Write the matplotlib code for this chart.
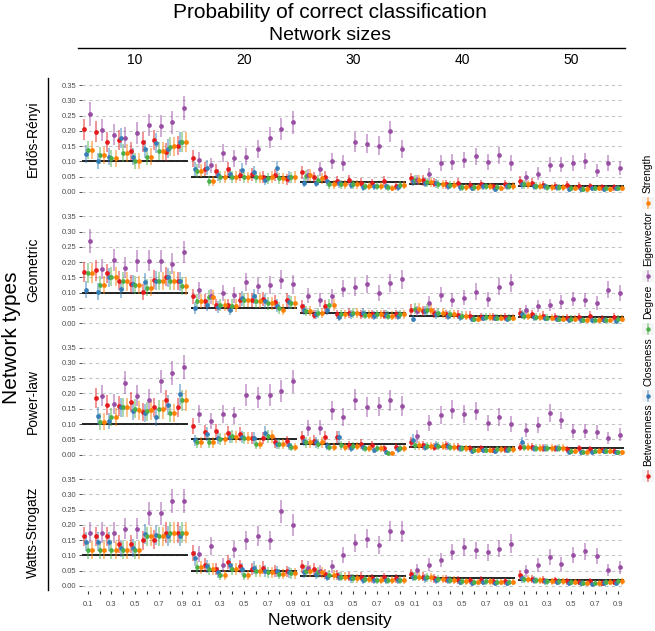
import numpy as np
import matplotlib.pyplot as plt
from matplotlib.lines import Line2D
from matplotlib.patches import Rectangle

plt.rcParams['font.family'] = ['Liberation Sans', 'DejaVu Sans']

# Data
densities = [0.1, 0.2, 0.3, 0.4, 0.5, 0.6, 0.7, 0.8, 0.9]
sizes = [10, 20, 30, 40, 50]
network_types = ["Erdős-Rényi", "Geometric", "Power-law", "Watts-Strogatz"]
measures = ["Betweenness", "Closeness", "Degree", "Eigenvector", "Strength"]
colors = ["#E41A1C", "#377EB8", "#4DAF4A", "#984EA3", "#FF7F00"]
n_reps = 500  # simulations per cell, used for the 95% binomial interval
nan = np.nan

er_10 = {
    "Betweenness": [0.205, 0.197, 0.165, 0.170, 0.135, 0.165, 0.170, 0.130, 0.152],
    "Closeness": [0.125, 0.100, 0.115, 0.177, 0.115, 0.140, 0.160, 0.142, 0.165],
    "Degree": [0.138, 0.120, 0.110, 0.127, 0.100, 0.115, 0.135, 0.148, 0.165],
    "Eigenvector": [0.255, 0.202, 0.187, 0.178, 0.193, 0.218, 0.217, 0.228, 0.275],
    "Strength": [0.138, 0.120, 0.110, 0.127, 0.100, 0.115, 0.135, 0.150, 0.165],
}
er_20 = {
    "Betweenness": [0.110, 0.075, 0.070, 0.075, 0.055, 0.058, 0.050, 0.055, 0.042],
    "Closeness": [0.075, 0.080, 0.055, 0.060, 0.072, 0.065, 0.040, 0.077, 0.050],
    "Degree": [0.070, 0.035, 0.050, 0.050, 0.048, 0.048, 0.045, 0.045, 0.048],
    "Eigenvector": [0.105, 0.087, 0.127, 0.110, 0.116, 0.140, 0.178, 0.206, 0.228],
    "Strength": [0.070, 0.035, 0.050, 0.050, 0.048, 0.048, 0.050, 0.045, 0.050],
}
er_30 = {
    "Betweenness": [0.065, 0.048, 0.050, 0.035, 0.040, 0.030, 0.028, 0.035, 0.020],
    "Closeness": [0.030, 0.030, 0.035, 0.028, 0.022, 0.015, 0.020, 0.018, 0.015],
    "Degree": [0.052, 0.040, 0.025, 0.025, 0.025, 0.020, 0.020, 0.015, 0.022],
    "Eigenvector": [0.055, 0.074, 0.100, 0.095, 0.163, 0.158, 0.151, 0.198, 0.141],
    "Strength": [0.055, 0.045, 0.025, 0.025, 0.025, 0.020, 0.020, 0.012, 0.022],
}
er_40 = {
    "Betweenness": [0.045, 0.038, 0.030, 0.025, 0.030, 0.022, 0.025, 0.018, 0.025],
    "Closeness": [0.035, 0.030, 0.028, 0.020, 0.015, 0.012, 0.020, 0.010, 0.018],
    "Degree": [0.040, 0.032, 0.025, 0.022, 0.015, 0.015, 0.018, 0.015, 0.020],
    "Eigenvector": [0.040, 0.058, 0.096, 0.098, 0.105, 0.117, 0.099, 0.120, 0.096],
    "Strength": [0.040, 0.032, 0.025, 0.022, 0.015, 0.015, 0.018, 0.012, 0.020],
}
er_50 = {
    "Betweenness": [0.035, 0.030, 0.022, 0.020, 0.022, 0.020, 0.018, 0.015, 0.015],
    "Closeness": [0.025, 0.020, 0.018, 0.015, 0.010, 0.010, 0.012, 0.010, 0.012],
    "Degree": [0.025, 0.020, 0.015, 0.015, 0.012, 0.010, 0.012, 0.012, 0.012],
    "Eigenvector": [0.050, 0.060, 0.089, 0.089, 0.096, 0.102, 0.070, 0.096, 0.078],
    "Strength": [0.025, 0.020, 0.015, 0.015, 0.012, 0.010, 0.012, 0.010, 0.012],
}

geo_10 = {
    "Betweenness": [0.168, 0.173, 0.163, 0.140, 0.130, 0.102, 0.143, 0.152, 0.138],
    "Closeness": [0.110, 0.104, 0.150, 0.112, 0.130, 0.135, 0.140, 0.150, 0.137],
    "Degree": [0.165, 0.126, 0.153, 0.137, 0.125, 0.117, 0.138, 0.140, 0.122],
    "Eigenvector": [0.270, 0.178, 0.208, 0.182, 0.203, 0.205, 0.203, 0.195, 0.233],
    "Strength": [0.165, 0.126, 0.153, 0.137, 0.125, 0.117, 0.138, 0.140, 0.122],
}
geo_20 = {
    "Betweenness": [0.088, 0.072, 0.060, 0.060, 0.075, 0.077, 0.080, 0.070, 0.077],
    "Closeness": [0.050, 0.060, 0.052, 0.045, 0.082, 0.088, 0.073, 0.058, 0.070],
    "Degree": [0.072, 0.085, 0.060, 0.058, 0.075, 0.073, 0.065, 0.050, 0.068],
    "Eigenvector": [0.108, 0.088, 0.098, 0.093, 0.135, 0.123, 0.125, 0.143, 0.128],
    "Strength": [0.072, 0.085, 0.060, 0.058, 0.075, 0.073, 0.065, 0.045, 0.068],
}
geo_30 = {
    "Betweenness": [0.055, 0.028, 0.055, 0.030, 0.035, 0.030, 0.030, 0.028, 0.030],
    "Closeness": [0.045, 0.030, 0.045, 0.020, 0.030, 0.035, 0.025, 0.028, 0.025],
    "Degree": [0.040, 0.035, 0.060, 0.030, 0.035, 0.028, 0.030, 0.025, 0.030],
    "Eigenvector": [0.090, 0.077, 0.088, 0.113, 0.119, 0.128, 0.099, 0.131, 0.144],
    "Strength": [0.040, 0.035, 0.060, 0.030, 0.035, 0.028, 0.030, 0.025, 0.030],
}
geo_40 = {
    "Betweenness": [0.045, 0.040, 0.035, 0.030, 0.028, 0.025, 0.022, 0.020, 0.020],
    "Closeness": [0.015, 0.040, 0.030, 0.025, 0.022, 0.015, 0.018, 0.018, 0.015],
    "Degree": [0.048, 0.045, 0.035, 0.030, 0.025, 0.015, 0.020, 0.018, 0.018],
    "Eigenvector": [0.040, 0.067, 0.094, 0.077, 0.084, 0.104, 0.078, 0.120, 0.131],
    "Strength": [0.048, 0.045, 0.035, 0.030, 0.025, 0.015, 0.020, 0.018, 0.018],
}
geo_50 = {
    "Betweenness": [0.035, 0.030, 0.025, 0.020, 0.018, 0.022, 0.025, 0.015, 0.020],
    "Closeness": [0.030, 0.020, 0.018, 0.015, 0.012, 0.010, 0.010, 0.012, 0.008],
    "Degree": [0.025, 0.020, 0.018, 0.015, 0.015, 0.012, 0.012, 0.012, 0.015],
    "Eigenvector": [0.042, 0.056, 0.060, 0.069, 0.080, 0.077, 0.067, 0.110, 0.100],
    "Strength": [0.025, 0.020, 0.018, 0.015, 0.015, 0.012, 0.012, 0.012, 0.015],
}

pl_10 = {
    "Betweenness": [nan, 0.185, 0.163, 0.160, 0.172, 0.140, 0.155, 0.178, 0.155],
    "Closeness": [nan, 0.127, 0.110, 0.155, 0.143, 0.135, 0.123, 0.162, 0.197],
    "Degree": [nan, 0.108, 0.123, 0.155, 0.150, 0.142, 0.148, 0.137, 0.177],
    "Eigenvector": [nan, 0.192, 0.165, 0.235, 0.193, 0.180, 0.240, 0.267, 0.287],
    "Strength": [nan, 0.108, 0.123, 0.155, 0.145, 0.145, 0.148, 0.137, 0.177],
}
pl_20 = {
    "Betweenness": [0.093, 0.075, 0.077, 0.070, 0.068, 0.055, 0.053, 0.040, 0.043],
    "Closeness": [0.047, 0.068, 0.053, 0.058, 0.058, 0.055, 0.072, 0.035, 0.030],
    "Degree": [0.040, 0.040, 0.050, 0.060, 0.055, 0.035, 0.060, 0.035, 0.025],
    "Eigenvector": [0.133, 0.110, 0.133, 0.128, 0.195, 0.188, 0.195, 0.208, 0.240],
    "Strength": [0.040, 0.040, 0.050, 0.058, 0.055, 0.035, 0.060, 0.035, 0.025],
}
pl_30 = {
    "Betweenness": [0.058, 0.045, 0.058, 0.058, 0.030, 0.035, 0.030, 0.020, 0.025],
    "Closeness": [0.045, 0.040, 0.028, 0.058, 0.020, 0.025, 0.015, 0.008, 0.018],
    "Degree": [0.040, 0.035, 0.025, 0.030, 0.028, 0.020, 0.020, 0.005, 0.020],
    "Eigenvector": [0.087, 0.088, 0.145, 0.123, 0.180, 0.156, 0.158, 0.177, 0.159],
    "Strength": [0.040, 0.040, 0.025, 0.025, 0.028, 0.020, 0.020, 0.005, 0.020],
}
pl_40 = {
    "Betweenness": [0.040, 0.030, 0.025, 0.030, 0.025, 0.020, 0.020, 0.015, 0.018],
    "Closeness": [0.048, 0.025, 0.030, 0.028, 0.020, 0.012, 0.015, 0.012, 0.015],
    "Degree": [0.030, 0.028, 0.028, 0.025, 0.020, 0.015, 0.015, 0.018, 0.018],
    "Eigenvector": [0.060, 0.103, 0.130, 0.147, 0.133, 0.143, 0.103, 0.123, 0.100],
    "Strength": [0.030, 0.028, 0.028, 0.025, 0.020, 0.015, 0.015, 0.018, 0.018],
}
pl_50 = {
    "Betweenness": [0.025, 0.025, 0.022, 0.020, 0.018, 0.020, 0.018, 0.015, 0.012],
    "Closeness": [0.040, 0.020, 0.022, 0.020, 0.010, 0.008, 0.010, 0.012, 0.008],
    "Degree": [0.025, 0.022, 0.022, 0.022, 0.012, 0.010, 0.012, 0.012, 0.008],
    "Eigenvector": [0.081, 0.096, 0.136, 0.113, 0.077, 0.078, 0.073, 0.055, 0.065],
    "Strength": [0.025, 0.022, 0.022, 0.022, 0.012, 0.010, 0.012, 0.012, 0.008],
}

ws_10 = {
    "Betweenness": [0.162, 0.162, 0.162, 0.138, 0.138, 0.150, 0.152, 0.175, 0.175],
    "Closeness": [0.145, 0.145, 0.145, 0.123, 0.125, 0.170, 0.168, 0.165, 0.165],
    "Degree": [0.118, 0.118, 0.118, 0.118, 0.118, 0.162, 0.162, 0.175, 0.175],
    "Eigenvector": [0.175, 0.175, 0.175, 0.188, 0.188, 0.238, 0.238, 0.278, 0.278],
    "Strength": [0.118, 0.118, 0.118, 0.118, 0.118, 0.162, 0.162, 0.175, 0.175],
}
ws_20 = {
    "Betweenness": [0.108, 0.068, 0.055, 0.078, 0.065, 0.055, 0.060, 0.050, 0.048],
    "Closeness": [0.090, 0.065, 0.045, 0.070, 0.055, 0.060, 0.050, 0.048, 0.045],
    "Degree": [0.062, 0.055, 0.035, 0.055, 0.035, 0.050, 0.045, 0.040, 0.042],
    "Eigenvector": [0.105, 0.130, 0.068, 0.120, 0.150, 0.165, 0.150, 0.245, 0.200],
    "Strength": [0.062, 0.055, 0.035, 0.055, 0.035, 0.050, 0.045, 0.040, 0.042],
}
ws_30 = {
    "Betweenness": [0.065, 0.055, 0.040, 0.035, 0.030, 0.030, 0.025, 0.028, 0.025],
    "Closeness": [0.045, 0.040, 0.030, 0.030, 0.025, 0.020, 0.018, 0.020, 0.018],
    "Degree": [0.050, 0.045, 0.035, 0.030, 0.025, 0.022, 0.020, 0.020, 0.020],
    "Eigenvector": [0.060, 0.050, 0.065, 0.100, 0.140, 0.155, 0.135, 0.180, 0.178],
    "Strength": [0.050, 0.045, 0.035, 0.030, 0.025, 0.022, 0.020, 0.020, 0.020],
}
ws_40 = {
    "Betweenness": [0.040, 0.030, 0.025, 0.022, 0.020, 0.018, 0.020, 0.015, 0.015],
    "Closeness": [0.030, 0.025, 0.020, 0.020, 0.012, 0.010, 0.012, 0.010, 0.010],
    "Degree": [0.030, 0.028, 0.022, 0.020, 0.015, 0.012, 0.015, 0.012, 0.012],
    "Eigenvector": [0.053, 0.070, 0.085, 0.111, 0.127, 0.117, 0.110, 0.122, 0.139],
    "Strength": [0.030, 0.028, 0.022, 0.020, 0.015, 0.012, 0.015, 0.012, 0.012],
}
ws_50 = {
    "Betweenness": [0.035, 0.022, 0.020, 0.018, 0.015, 0.012, 0.015, 0.010, 0.012],
    "Closeness": [0.025, 0.020, 0.015, 0.012, 0.010, 0.010, 0.008, 0.010, 0.010],
    "Degree": [0.022, 0.018, 0.015, 0.015, 0.012, 0.010, 0.010, 0.012, 0.015],
    "Eigenvector": [0.049, 0.068, 0.095, 0.072, 0.101, 0.114, 0.098, 0.052, 0.061],
    "Strength": [0.022, 0.018, 0.015, 0.015, 0.012, 0.010, 0.010, 0.012, 0.015],
}

panels = {
    "Erdős-Rényi": [er_10, er_20, er_30, er_40, er_50],
    "Geometric": [geo_10, geo_20, geo_30, geo_40, geo_50],
    "Power-law": [pl_10, pl_20, pl_30, pl_40, pl_50],
    "Watts-Strogatz": [ws_10, ws_20, ws_30, ws_40, ws_50],
}

# Figure, laid out in pixels
W, H = 655, 631
fig = plt.figure(figsize=(W / 100, H / 100), dpi=100)


def px_axes(left, top, width, height):
    return fig.add_axes([left / W, 1 - (top + height) / H, width / W, height / H])


ylo, yhi = -0.015, 0.37
px_per_unit = 305.7
panel_w, panel_pitch = 106, 109
row_zero = [192, 323.3, 454.6, 586]
offsets = (np.arange(len(measures)) - 2) * 0.0175
grid_vals = np.arange(0, 0.351, 0.05)

for i, nt in enumerate(network_types):
    top = row_zero[i] - yhi * px_per_unit
    height = (yhi - ylo) * px_per_unit
    for j, size in enumerate(sizes):
        ax = px_axes(82 + panel_pitch * j, top, panel_w, height)
        ax.set_xlim(0.05, 0.95)
        ax.set_ylim(ylo, yhi)
        for g in grid_vals:
            ax.axhline(g, color="#C4C4C4", lw=0.8, ls=(0, (3, 3)), zorder=0)
        ax.axhline(1 / size, color="black", lw=1.2, zorder=1)
        data = panels[nt][j]
        for k, m in enumerate(measures):
            p = np.array(data[m], dtype=float)
            err = 1.96 * np.sqrt(p * (1 - p) / n_reps)
            x = np.array(densities) + offsets[k]
            ax.vlines(x, p - err, p + err, color=colors[k], lw=1.1, alpha=0.6, zorder=2)
            ax.plot(x, p, "o", color=colors[k], ms=3.4, mec="none", zorder=3)
        for s in ax.spines.values():
            s.set_visible(False)
        ax.set_xticks(densities)
        ax.set_yticks(grid_vals)
        if i == len(network_types) - 1:
            ax.set_xticklabels([f"{d:.1f}" if k % 2 == 0 else "" for k, d in enumerate(densities)])
            ax.tick_params(axis="x", length=2.5, width=0.8, color="#333333", pad=5,
                           labelsize=5.5, labelcolor="#4D4D4D")
        else:
            ax.tick_params(axis="x", length=0, labelbottom=False)
        if j == 0:
            ax.set_yticklabels([f"{g:.2f}" for g in grid_vals])
            ax.tick_params(axis="y", length=2, width=0.6, color="#333333", pad=2,
                           labelsize=5.5, labelcolor="#4D4D4D")
        else:
            ax.tick_params(axis="y", length=0, labelleft=False)

# Headers and strip labels
fig.text(330 / W, 1 - 12 / H, "Probability of correct classification", ha="center", va="center", fontsize=15)
fig.text(330 / W, 1 - 35 / H, "Network sizes", ha="center", va="center", fontsize=14)
fig.add_artist(Line2D([78 / W, 625 / W], [1 - 48 / H, 1 - 48 / H], color="black", lw=1.0))
for j, size in enumerate(sizes):
    fig.text((82 + panel_pitch * j + panel_w / 2) / W, 1 - 60 / H, str(size),
             ha="center", va="center", fontsize=10)

fig.add_artist(Line2D([48 / W, 48 / W], [1 - 78 / H, 1 - 590 / H], color="black", lw=1.0))
for i, nt in enumerate(network_types):
    yc = row_zero[i] - 0.175 * px_per_unit
    fig.text(33 / W, 1 - yc / H, nt, rotation=90, ha="center", va="center", fontsize=10)
fig.text(12 / W, 1 - 338 / H, "Network types", rotation=90, ha="center", va="center", fontsize=15)
fig.text(330 / W, 1 - 621 / H, "Network density", ha="center", va="center", fontsize=12.5)

# Legend (keys with rotated labels above them)
key_y = [476, 396, 329, 276, 203]
for k, m in enumerate(measures):
    fig.add_artist(Rectangle(((648 - 6) / W, 1 - (key_y[k] + 6) / H), 12 / W, 12 / H,
                             facecolor="#F4F4F4", edgecolor="none"))
    fig.add_artist(Line2D([648 / W, 648 / W], [1 - (key_y[k] + 5) / H, 1 - (key_y[k] - 5) / H],
                          color=colors[k], lw=1.1, alpha=0.6))
    fig.add_artist(Line2D([648 / W], [1 - key_y[k] / H], marker="o", ms=3.2,
                          color=colors[k], mec="none", ls="none"))
    fig.text(648 / W, 1 - (key_y[k] - 10) / H, m, rotation=90, ha="center", va="bottom", fontsize=7.5)

fig.savefig("out.png", dpi=100)
plt.close(fig)
